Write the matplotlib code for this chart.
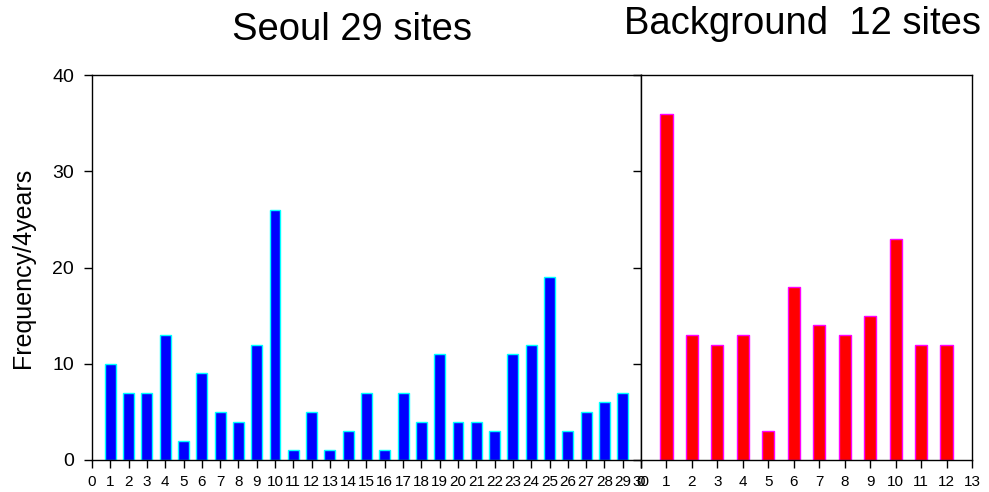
import matplotlib
matplotlib.use("Agg")
import matplotlib.pyplot as plt
import numpy as np

plt.rcParams['font.family'] = ['Liberation Sans', 'DejaVu Sans']

seoul_sites = list(range(1, 30))
seoul_freq = [10, 7, 7, 13, 2, 9, 5, 4, 12, 26, 1, 5, 1, 3, 7, 1, 7, 4, 11, 4,
              4, 3, 11, 12, 19, 3, 5, 6, 7]
bg_sites = list(range(1, 13))
bg_freq = [36, 13, 12, 13, 3, 18, 14, 13, 15, 23, 12, 12]

fig = plt.figure(figsize=(9.89, 4.92), dpi=100)
W, H = 989, 492
ax1 = fig.add_axes([92 / W, 1 - 460 / H, (641 - 92) / W, (460 - 75) / H])
ax2 = fig.add_axes([641 / W, 1 - 460 / H, (972 - 641) / W, (460 - 75) / H])

ax1.bar(seoul_sites, seoul_freq, width=0.6, color='#0000ff', edgecolor='#00ffff', linewidth=1.0)
ax2.bar(bg_sites, bg_freq, width=0.48, color='#ff0000', edgecolor='#ff00ff', linewidth=1.0)

ax1.set_xlim(0, 30)
ax1.set_ylim(0, 40)
ax1.set_xticks(range(0, 31))
ax1.set_yticks([0, 10, 20, 30, 40])
ax1.tick_params(axis='x', labelsize=11, direction='out', length=6, width=1, pad=5)
ax1.tick_params(axis='y', labelsize=14, direction='out', length=6, width=1, pad=7)
ax1.set_ylabel('Frequency/4years', fontsize=18, labelpad=12)

ax2.set_xlim(0, 13)
ax2.set_ylim(0, 40)
ax2.set_xticks(range(0, 14))
ax2.set_yticks([0, 10, 20, 30, 40])
ax2.set_yticklabels([])
ax2.tick_params(axis='x', labelsize=11, direction='out', length=6, width=1, pad=5)
ax2.tick_params(axis='y', direction='out', length=6, width=1)

fig.text(352 / W, 1 - 40 / H, 'Seoul 29 sites', fontsize=27.5,
         ha='center', va='baseline')
fig.text(803 / W, 1 - 34 / H, 'Background  12 sites', fontsize=27.5,
         ha='center', va='baseline')

for ax in (ax1, ax2):
    for s in ax.spines.values():
        s.set_linewidth(1.0)

fig.savefig('out.png', dpi=100)
